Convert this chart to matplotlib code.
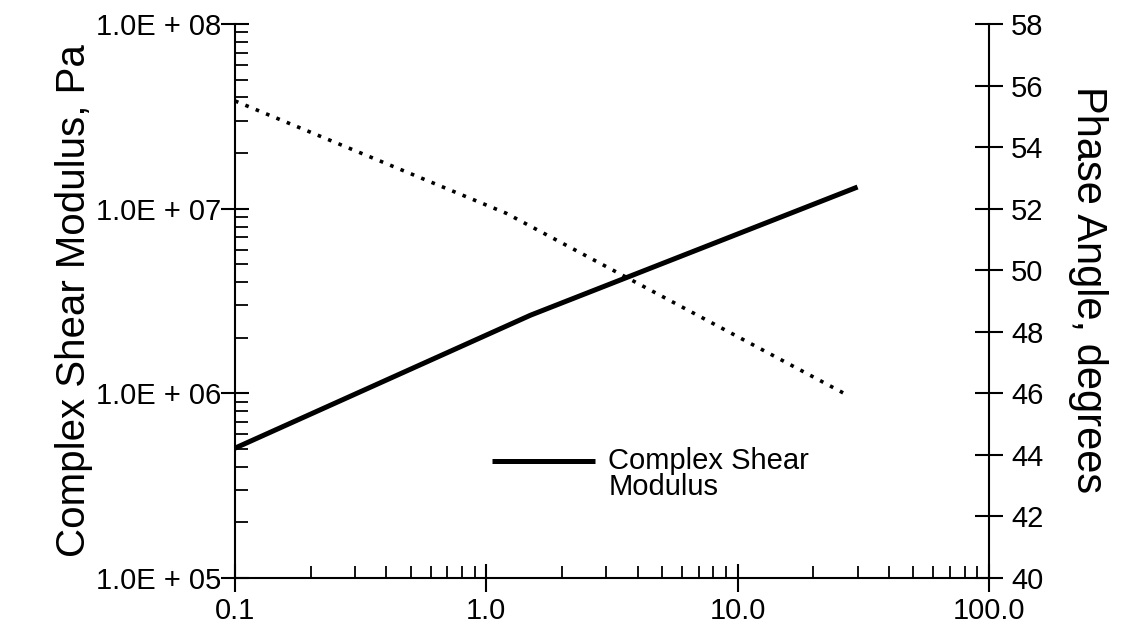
import matplotlib
matplotlib.use('Agg')
import matplotlib.pyplot as plt
from matplotlib.ticker import FixedLocator, FixedFormatter, LogLocator, NullFormatter, NullLocator

plt.rcParams['font.family'] = ['Liberation Sans', 'DejaVu Sans']

# frequency (Hz) vs complex shear modulus G* (Pa)
freq_g = [0.1, 1.5, 30.0]
g_star = [5.05e5, 2.65e6, 1.31e7]

# frequency (Hz) vs phase angle (deg)
freq_d = [0.1, 1.2, 26.5]
delta = [55.5, 51.85, 46.0]

x_ticks = [0.1, 1.0, 10.0, 100.0]
x_labels = ['0.1', '1.0', '10.0', '100.0']
g_ticks = [1e5, 1e6, 1e7, 1e8]
g_labels = ['1.0E + 05', '1.0E + 06', '1.0E + 07', '1.0E + 08']
d_ticks = [40, 42, 44, 46, 48, 50, 52, 54, 56, 58]

fig = plt.figure(figsize=(11.37, 6.28), dpi=100)
ax = fig.add_axes([0.2067, 0.0796, 0.6631, 0.8822])
ax2 = ax.twinx()

ax.plot(freq_g, g_star, color='black', lw=3.6, solid_capstyle='butt', zorder=3)
ax2.plot(freq_d, delta, color='black', lw=2.6, linestyle=(0, (1, 2.1)),
         dash_capstyle='butt')

ax.set_xscale('log')
ax.set_yscale('log')
ax.set_xlim(0.1, 100)
ax.set_ylim(1e5, 1e8)
ax2.set_ylim(40, 58)

ax.xaxis.set_major_locator(FixedLocator(x_ticks))
ax.xaxis.set_major_formatter(FixedFormatter(x_labels))
ax.xaxis.set_minor_locator(LogLocator(base=10, subs=range(2, 10)))
ax.xaxis.set_minor_formatter(NullFormatter())
ax.yaxis.set_major_locator(FixedLocator(g_ticks))
ax.yaxis.set_major_formatter(FixedFormatter(g_labels))
ax.yaxis.set_minor_locator(LogLocator(base=10, subs=range(2, 10)))
ax.yaxis.set_minor_formatter(NullFormatter())
ax2.yaxis.set_major_locator(FixedLocator(d_ticks))
ax2.yaxis.set_minor_locator(NullLocator())

for a in (ax, ax2):
    for s in a.spines.values():
        s.set_linewidth(1.5)
ax.spines['top'].set_visible(False)
ax.spines['right'].set_visible(False)
ax2.spines['top'].set_visible(False)
ax2.spines['left'].set_visible(False)
ax2.spines['bottom'].set_visible(False)

ax.tick_params(axis='x', which='major', direction='inout', length=20,
               width=1.5, labelsize=21, pad=4)
ax.tick_params(axis='y', which='major', direction='inout', length=20,
               width=1.5, labelsize=21, pad=0)
ax.tick_params(axis='both', which='minor', direction='in', length=9, width=1.3)
ax2.tick_params(axis='y', which='major', direction='inout', length=20,
                width=1.5, labelsize=21, pad=6)

ax.set_ylabel('Complex Shear Modulus, Pa', fontsize=29)
ax.yaxis.set_label_coords(-0.188, 0.5)
ax2.set_ylabel('Phase Angle, degrees', fontsize=30, rotation=270, va='center')
ax2.yaxis.set_label_coords(1.131, 0.52)

# key for the modulus curve
ax.plot([0.341, 0.477], [0.211, 0.211], transform=ax.transAxes,
        color='black', lw=3.6, solid_capstyle='butt')
ax.text(0.495, 0.211, 'Complex Shear', transform=ax.transAxes,
        fontsize=21, va='center', ha='left')
ax.text(0.495, 0.164, 'Modulus', transform=ax.transAxes,
        fontsize=21, va='center', ha='left')

fig.savefig('out.png', dpi=100, facecolor='white')
